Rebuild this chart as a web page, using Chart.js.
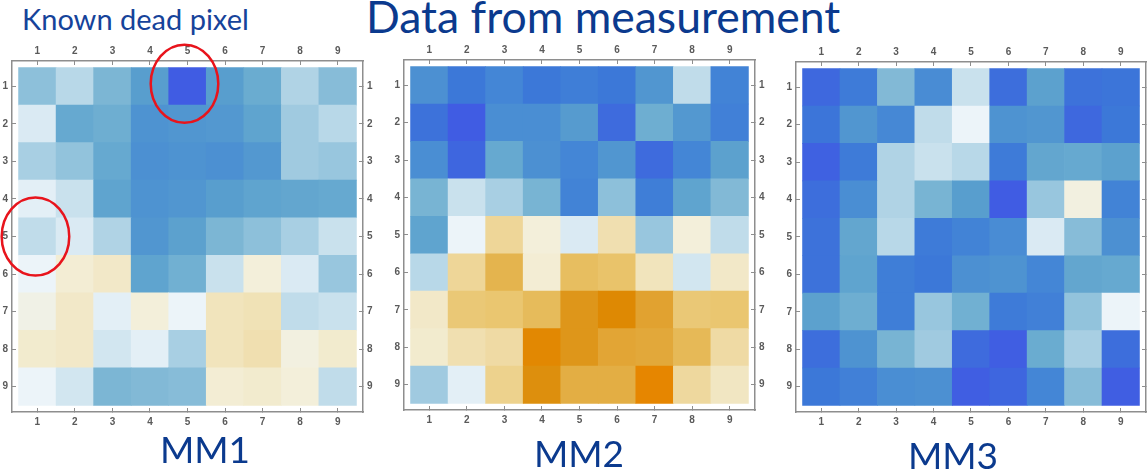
<!DOCTYPE html>
<html>
<head>
<meta charset="utf-8">
<script src="https://cdn.jsdelivr.net/npm/chart.js@4.4.1/dist/chart.umd.min.js"></script>
<style>
  html, body { margin: 0; padding: 0; background: #fff; width: 1147px; height: 472px; overflow: hidden; position: relative; }
  canvas { position: absolute; }
  .txt { position: absolute; white-space: nowrap; color: #0b3a8e; font-family: Lato, 'Open Sans', sans-serif; line-height: 1; }
  .mm { transform: translateX(-50%); font-size: 37px; }
</style>
</head>
<body>
<div class="txt" style="left:22px; top:4px; font-size:29px; color:#16439a;">Known dead pixel</div>
<div class="txt" style="left:366px; top:-6px; font-size:44.5px;">Data from measurement</div>

<canvas id="mm1Chart" width="385" height="400" style="left:0px; top:36px;"></canvas>
<canvas id="mm2Chart" width="395" height="400" style="left:385px; top:36px;"></canvas>
<canvas id="mm3Chart" width="400" height="400" style="left:780px; top:36px;"></canvas>

<div class="txt mm" style="left:205px; top:430px;">MM1</div>
<div class="txt mm" style="left:579px; top:434px;">MM2</div>
<div class="txt mm" style="left:953px; top:436px;">MM3</div>

<script>
// ---------- data ----------
const colLabels = ['1', '2', '3', '4', '5', '6', '7', '8', '9'];
const rowLabels = ['1', '2', '3', '4', '5', '6', '7', '8', '9'];

// cell values on a 0..1 scale (0 = deep blue, 0.5 = white, 1 = orange)
const mm1Values = [
  [0.38, 0.44, 0.35, 0.25, 0.00, 0.25, 0.30, 0.43, 0.37],
  [0.48, 0.29, 0.31, 0.21, 0.22, 0.23, 0.27, 0.41, 0.44],
  [0.42, 0.39, 0.29, 0.20, 0.21, 0.20, 0.23, 0.41, 0.40],
  [0.49, 0.46, 0.27, 0.21, 0.22, 0.25, 0.27, 0.28, 0.29],
  [0.45, 0.48, 0.43, 0.22, 0.26, 0.35, 0.38, 0.42, 0.46],
  [0.50, 0.56, 0.58, 0.27, 0.32, 0.46, 0.55, 0.48, 0.40],
  [0.53, 0.58, 0.49, 0.55, 0.50, 0.60, 0.61, 0.45, 0.46],
  [0.57, 0.58, 0.47, 0.49, 0.42, 0.60, 0.62, 0.54, 0.57],
  [0.50, 0.47, 0.35, 0.36, 0.37, 0.56, 0.57, 0.55, 0.45]
];

const mm2Values = [
  [0.20, 0.10, 0.15, 0.10, 0.12, 0.10, 0.22, 0.45, 0.14],
  [0.08, 0.00, 0.19, 0.19, 0.24, 0.06, 0.31, 0.23, 0.13],
  [0.19, 0.04, 0.29, 0.20, 0.15, 0.22, 0.06, 0.15, 0.26],
  [0.34, 0.46, 0.42, 0.34, 0.14, 0.38, 0.12, 0.27, 0.36],
  [0.27, 0.50, 0.66, 0.55, 0.48, 0.62, 0.40, 0.55, 0.45],
  [0.44, 0.66, 0.80, 0.56, 0.76, 0.74, 0.60, 0.47, 0.58],
  [0.58, 0.72, 0.73, 0.77, 0.90, 0.96, 0.86, 0.72, 0.73],
  [0.57, 0.62, 0.64, 0.98, 0.90, 0.85, 0.84, 0.78, 0.64],
  [0.41, 0.49, 0.68, 0.93, 0.82, 0.82, 1.00, 0.65, 0.59]
];

const mm3Values = [
  [0.05, 0.11, 0.36, 0.18, 0.46, 0.07, 0.26, 0.08, 0.09],
  [0.09, 0.22, 0.16, 0.45, 0.50, 0.21, 0.22, 0.05, 0.10],
  [0.02, 0.11, 0.43, 0.46, 0.44, 0.11, 0.28, 0.29, 0.26],
  [0.07, 0.19, 0.43, 0.34, 0.25, 0.00, 0.40, 0.54, 0.14],
  [0.08, 0.28, 0.44, 0.11, 0.14, 0.18, 0.48, 0.37, 0.20],
  [0.08, 0.27, 0.12, 0.10, 0.20, 0.21, 0.15, 0.28, 0.29],
  [0.26, 0.31, 0.12, 0.40, 0.32, 0.11, 0.13, 0.39, 0.50],
  [0.07, 0.21, 0.34, 0.41, 0.06, 0.01, 0.30, 0.42, 0.07],
  [0.10, 0.13, 0.19, 0.20, 0.01, 0.04, 0.15, 0.37, 0.01]
];

// circled cells on MM1 (centre in cell units, radii in cells)
const deadPixelMarks = [
  { x: 4.92, y: 0.93, rx: 0.9, ry: 1.04 },
  { x: 0.95, y: 5.0, rx: 0.9, ry: 1.04 }
];

// ---------- colour scale ----------
const colorStops = [
  [0.00, [64, 92, 227]],
  [0.05, [62, 104, 222]],
  [0.10, [60, 120, 216]],
  [0.15, [68, 134, 214]],
  [0.20, [76, 144, 210]],
  [0.25, [88, 158, 206]],
  [0.30, [106, 172, 208]],
  [0.35, [124, 182, 212]],
  [0.40, [152, 198, 222]],
  [0.45, [192, 220, 234]],
  [0.50, [236, 244, 249]],
  [0.55, [243, 239, 218]],
  [0.60, [241, 228, 188]],
  [0.65, [238, 216, 158]],
  [0.70, [236, 206, 130]],
  [0.75, [232, 192, 100]],
  [0.80, [228, 180, 78]],
  [0.85, [226, 165, 53]],
  [0.90, [222, 150, 26]],
  [0.95, [220, 138, 4]],
  [1.00, [230, 134, 0]]
];

function colorFor(v) {
  for (let i = 1; i < colorStops.length; i++) {
    const [v1, c1] = colorStops[i];
    const [v0, c0] = colorStops[i - 1];
    if (v <= v1) {
      const t = (v - v0) / (v1 - v0);
      const c = c0.map((a, k) => Math.round(a + (c1[k] - a) * t));
      return `rgb(${c[0]},${c[1]},${c[2]})`;
    }
  }
  const c = colorStops[colorStops.length - 1][1];
  return `rgb(${c[0]},${c[1]},${c[2]})`;
}

// ---------- chart helpers ----------
const LO = 0.325, HI = 9.675;
const frameColor = '#8e8e8e';

function axis(pos, size, labels) {
  const horiz = pos === 'top' || pos === 'bottom';
  return {
    type: 'linear',
    position: pos,
    min: LO, max: HI,
    reverse: !horiz,
    offset: false,
    grid: { drawOnChartArea: false, drawTicks: true, tickLength: -4, color: frameColor, lineWidth: 1, offset: false },
    border: { display: true, color: frameColor, width: 1.5 },
    ticks: {
      padding: 8,
      color: '#5a5a5a',
      font: { family: "'Liberation Sans', Arial, sans-serif", size: 10, weight: 'bold' },
      autoSkip: false,
      maxRotation: 0,
      callback: (v, i) => labels[i]
    },
    afterBuildTicks: s => { s.ticks = labels.map((_, i) => ({ value: i + 1 })); },
    afterFit: s => { if (horiz) s.height = size; else s.width = size; }
  };
}

const ellipsePlugin = {
  id: 'ellipses',
  afterDraw(chart, args, opts) {
    const marks = (opts && opts.marks) || [];
    if (!marks.length) return;
    const xs = chart.scales.x, ys = chart.scales.y;
    const ctx = chart.ctx;
    ctx.save();
    ctx.strokeStyle = opts.color;
    ctx.lineWidth = opts.width;
    marks.forEach(m => {
      const cx = xs.getPixelForValue(m.x), cy = ys.getPixelForValue(m.y);
      const rx = Math.abs(xs.getPixelForValue(m.x + m.rx) - cx);
      const ry = Math.abs(ys.getPixelForValue(m.y + m.ry) - cy);
      ctx.beginPath();
      ctx.ellipse(cx, cy, rx, ry, 0, 0, Math.PI * 2);
      ctx.stroke();
    });
    ctx.restore();
  }
};

function makePanel(id, values, sizes, marks) {
  const cells = [];
  const colors = [];
  values.forEach((row, r) => row.forEach((v, c) => {
    cells.push({ x: c + 1, y: [r + 0.5, r + 1.5] });
    colors.push(colorFor(v));
  }));

  return new Chart(document.getElementById(id), {
    type: 'bar',
    data: {
      datasets: [{
        data: cells,
        backgroundColor: colors,
        hoverBackgroundColor: colors,
        borderWidth: 0,
        barPercentage: 1,
        categoryPercentage: 1,
        xAxisID: 'x',
        yAxisID: 'y'
      }]
    },
    options: {
      responsive: false,
      animation: false,
      devicePixelRatio: 1,
      events: [],
      layout: { padding: 0 },
      plugins: {
        legend: { display: false },
        tooltip: { enabled: false },
        ellipses: { marks: marks || [], color: '#e8141c', width: 2.5 }
      },
      scales: {
        x: axis('bottom', sizes.bottom, colLabels),
        xTop: axis('top', sizes.top, colLabels),
        y: axis('left', sizes.left, rowLabels),
        yRight: axis('right', sizes.right, rowLabels)
      }
    },
    plugins: [ellipsePlugin]
  });
}

makePanel('mm1Chart', mm1Values, { left: 12, right: 22, top: 25, bottom: 24 }, deadPixelMarks);
makePanel('mm2Chart', mm2Values, { left: 19, right: 25, top: 24, bottom: 26 });
makePanel('mm3Chart', mm3Values, { left: 16, right: 34, top: 26, bottom: 24 });
</script>
</body>
</html>
